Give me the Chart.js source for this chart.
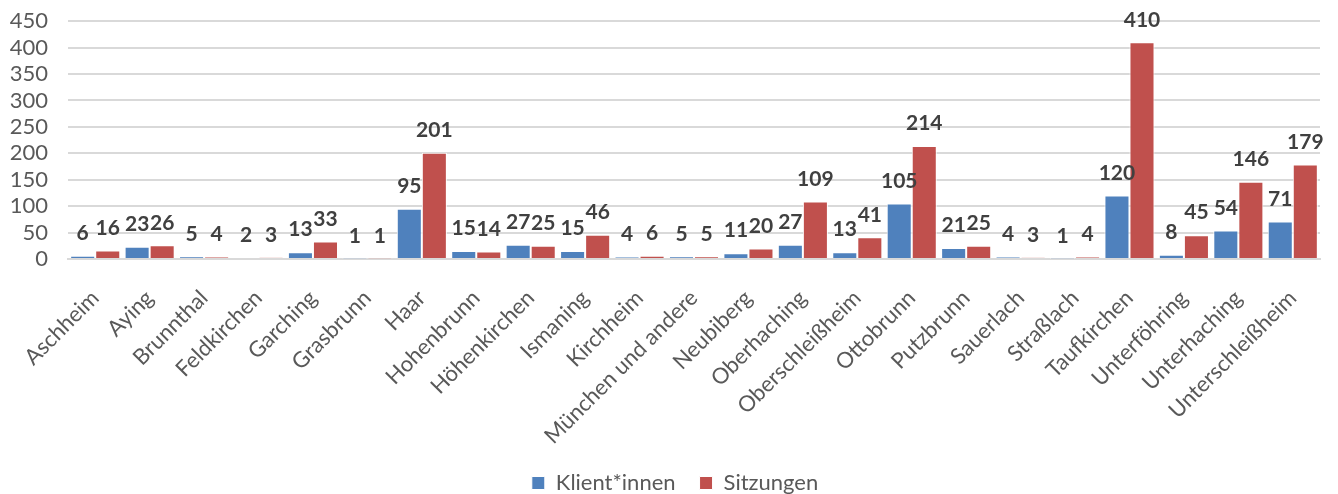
<!DOCTYPE html>
<html>
<head>
<meta charset="utf-8">
<style>
  html, body { margin: 0; padding: 0; background: #fff; overflow: hidden; }
  #wrap { width: 1338px; height: 494px; overflow: hidden; }
  #chart { display: block; margin-top: -12px; }
</style>
</head>
<body>
<div id="wrap"><canvas id="chart" width="1338" height="506"></canvas></div>

<script src="https://cdn.jsdelivr.net/npm/chart.js"></script>
<script>
const gemeinden = ['Aschheim', 'Aying', 'Brunnthal', 'Feldkirchen', 'Garching', 'Grasbrunn', 'Haar',
  'Hohenbrunn', 'Höhenkirchen', 'Ismaning', 'Kirchheim', 'München und andere', 'Neubiberg',
  'Oberhaching', 'Oberschleißheim', 'Ottobrunn', 'Putzbrunn', 'Sauerlach', 'Straßlach',
  'Taufkirchen', 'Unterföhring', 'Unterhaching', 'Unterschleißheim'];
const klienten = [6, 23, 5, 2, 13, 1, 95, 15, 27, 15, 4, 5, 11, 27, 13, 105, 21, 4, 1, 120, 8, 54, 71];
const sitzungen = [16, 26, 4, 3, 33, 1, 201, 14, 25, 46, 6, 5, 20, 109, 41, 214, 25, 3, 4, 410, 45, 146, 179];

// value labels above the bars
const valueLabels = {
  id: 'valueLabels',
  afterDatasetsDraw(chart) {
    const ctx = chart.ctx;
    ctx.save();
    ctx.font = 'bold 21px Lato';
    ctx.fillStyle = '#404040';
    ctx.textAlign = 'center';
    ctx.textBaseline = 'bottom';
    chart.data.datasets.forEach((ds, i) => {
      chart.getDatasetMeta(i).data.forEach((bar, j) => {
        ctx.fillText(ds.data[j], bar.x, bar.y - 12);
      });
    });
    ctx.restore();
  }
};

// legend sits centred on the whole picture, not the padded area
const legendShift = {
  id: 'legendShift',
  afterLayout(chart) {
    chart.legend.left += 15;
    chart.legend.right += 15;
  }
};

new Chart(document.getElementById('chart'), {
  type: 'bar',
  data: {
    labels: gemeinden,
    datasets: [{
      label: 'Klient*innen',
      data: klienten,
      backgroundColor: '#4F81BD',
      borderColor: '#ffffff',
      borderWidth: 1
    }, {
      label: 'Sitzungen',
      data: sitzungen,
      backgroundColor: '#C0504D',
      borderColor: '#ffffff',
      borderWidth: 1
    }]
  },
  options: {
    responsive: false,
    animation: false,
    maintainAspectRatio: false,
    layout: { padding: { top: 0, right: 18, left: 0, bottom: -10 } },
    datasets: { bar: { categoryPercentage: 0.92, barPercentage: 1 } },
    plugins: {
      tooltip: { enabled: false },
      legend: {
        position: 'bottom',
        labels: {
          font: { family: 'Lato', size: 22 },
          color: '#595959',
          boxWidth: 13,
          boxHeight: 13,
          padding: 24
        }
      }
    },
    scales: {
      x: {
        grid: { display: false },
        border: { color: '#d9d9d9', width: 2 },
        ticks: {
          font: { family: 'Lato', size: 22 },
          color: '#595959',
          maxRotation: 45,
          minRotation: 45,
          autoSkip: false,
          padding: 18
        },
        afterFit(s) { s.height = 189; }
      },
      y: {
        min: 0,
        max: 450,
        ticks: {
          stepSize: 50,
          autoSkip: false,
          font: { family: 'Lato', size: 22 },
          color: '#595959',
          padding: 20
        },
        grid: { color: '#d9d9d9', lineWidth: 2, drawTicks: false },
        border: { display: false },
        afterFit(s) { s.width = 68; }
      }
    }
  },
  plugins: [valueLabels, legendShift]
});
</script>
</body>
</html>
